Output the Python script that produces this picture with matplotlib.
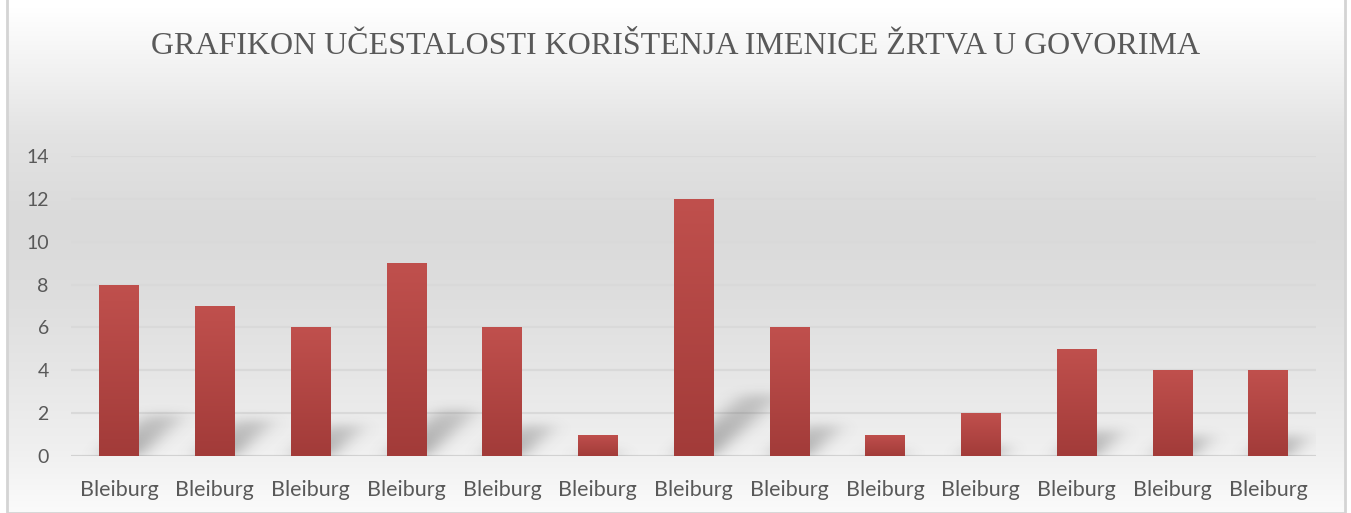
import matplotlib.pyplot as plt
import numpy as np
from matplotlib.patches import Rectangle
from matplotlib.colors import LinearSegmentedColormap

plt.rcParams['font.serif'] = ['Liberation Serif', 'DejaVu Serif']

# data
labels = ["Bleiburg"] * 13
counts = [8, 7, 6, 9, 6, 1, 12, 6, 1, 2, 5, 4, 4]
y_ticks = [0, 2, 4, 6, 8, 10, 12, 14]
title = "GRAFIKON UČESTALOSTI KORIŠTENJA IMENICE ŽRTVA U GOVORIMA"

W, H = 1351, 513
fig = plt.figure(figsize=(W / 100, H / 100), dpi=100)

# background panel with vertical gradient and light border
bg = fig.add_axes([7 / W, 0, (1345 - 7) / W, (H - 7) / H])
bg.set_xlim(0, 1)
bg.set_ylim(0, 1)
bg.axis("off")
stops = [(0.0, "#fbfbfb"), (0.12, "#f0f0f0"), (0.28, "#e6e6e6"),
         (0.42, "#dedede"), (0.58, "#dadada"), (0.75, "#e3e3e3"),
         (0.88, "#f2f2f2"), (1.0, "#ffffff")]
bg_cmap = LinearSegmentedColormap.from_list("bg", stops)
grad = np.linspace(0, 1, 256).reshape(-1, 1)
bg.imshow(grad, cmap=bg_cmap, aspect="auto", extent=[0, 1, 0, 1], origin="lower")
bg.add_patch(Rectangle((0, 0), 1, 1.2, fill=False, ec="#d4d4d4", lw=2,
                       transform=bg.transAxes, clip_on=False))

fig.text(676 / W, 1 - 47 / H, title, ha="center", va="center",
         family="serif", fontsize=23, color="#595959")

ax = fig.add_axes([71 / W, 57 / H, (1316 - 71) / W, 300 / H])
ax.patch.set_alpha(0)
x = np.arange(len(counts))
ax.set_yticks(y_ticks)
ax.set_xticks(x)
ax.set_xticklabels(labels)
for s in ax.spines.values():
    s.set_visible(False)
ax.tick_params(length=0, labelcolor="#595959")
ax.tick_params(axis="x", labelsize=15.5, pad=17)
ax.tick_params(axis="y", labelsize=14, pad=16)
for t in ax.get_xticklabels() + ax.get_yticklabels():
    t.set_fontfamily("Lato")
ax.grid(axis="y", color="#d9d9d9", lw=1.6)
ax.axhline(0, color="#d0d0d0", lw=1.8, zorder=1)
ax.set_axisbelow(True)

bw = 0.41

# soft diagonal shadows, built on a grid in data coordinates and blurred
gx = np.linspace(-0.5, len(counts) - 0.5, 1300)
gy = np.linspace(0, 14, 700)
XX, YY = np.meshgrid(gx, gy)
shade = np.zeros_like(XX)
for xi, v in zip(x, counts):
    top = 0.24 * v
    shift = 0.06 * v
    t = YY / top
    inside = (YY >= 0) & (YY <= top)
    left = xi - bw / 2 + t * shift
    right = xi + bw / 2 + t * shift
    m = inside & (XX >= left) & (XX <= right)
    shade = np.maximum(shade, np.where(m, 1 - 0.5 * t, 0))


def blur(a, sigma, axis):
    r = int(3 * sigma)
    k = np.exp(-0.5 * (np.arange(-r, r + 1) / sigma) ** 2)
    k /= k.sum()
    return np.apply_along_axis(lambda m: np.convolve(m, k, mode="same"), axis, a)


shade = blur(shade, 10, 1)
shade = blur(shade, 12, 0)
rgba = np.zeros(shade.shape + (4,))
rgba[..., :3] = 0.35
rgba[..., 3] = 0.5 * shade
ax.imshow(rgba, origin="lower", aspect="auto", zorder=1.5,
          extent=[gx[0], gx[-1], gy[0], gy[-1]], interpolation="bilinear")

# bars with vertical gradient
bar_cmap = LinearSegmentedColormap.from_list("bar", ["#a23b39", "#c0504d"])
bars = ax.bar(x, counts, width=bw, color="none", zorder=2)
for b in bars:
    x0, y0 = b.get_x(), b.get_y()
    img = ax.imshow(grad, cmap=bar_cmap, aspect="auto", origin="lower",
                    extent=[x0, x0 + b.get_width(), y0, y0 + b.get_height()], zorder=3)
    img.set_clip_path(b)
ax.set_xlim(-0.5, len(counts) - 0.5)
ax.set_ylim(0, 14)

fig.savefig("out.png", dpi=100)
